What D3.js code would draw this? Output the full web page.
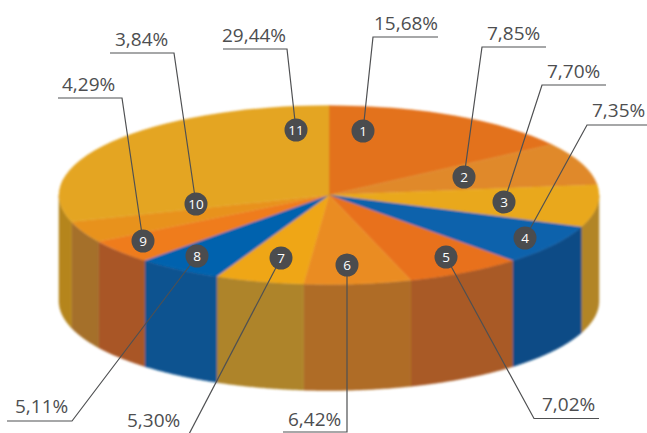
<!DOCTYPE html>
<html>
<head>
<meta charset="utf-8">
<script src="https://cdn.jsdelivr.net/npm/d3@7"></script>
<style>
html,body{margin:0;padding:0;background:#fff;}
svg{display:block;}
</style>
</head>
<body>
<svg id="chart" width="647" height="433"></svg>
<script>
const sliceIds = [1,2,3,4,5,6,7,8,9,10,11];
const shares = [15.68,7.85,7.70,7.35,7.02,6.42,5.30,5.11,4.29,3.84,29.44];
const shareLabels = ["15,68%","7,85%","7,70%","7,35%","7,02%","6,42%","5,30%","5,11%","4,29%","3,84%","29,44%"];
const topColors = ["#E3721F","#E0892A","#E9A81A","#0862AC","#E8711F","#EA8C22","#EFA616","#0562AE","#EF7B1F","#E8921F","#E4A523"];
const sideColors = ["#A9642A","#A9742A","#B28528","#0E4C86","#A95A26","#AF6C26","#AE8429","#0E5290","#A95628","#A5702A","#B5851F"];

// Annotation layout: marker centre, elbow, end of shelf, label start, baseline
const markerX = [363,464,504,525,446,347,281,197,143,196,296];
const markerY = [131,177,202,238,257,265,258,256,241,204,130];
const elbowX  = [373,482,542,587,534,347,188,72,122,174,287];
const elbowY  = [37,47,85,125,418.5,432,436,421,98,53,49];
const shelfX  = [438,546,606,647,599,283,188,7,58,110,223];
const labelX  = [374,487,547,592,542,288,127,15,62,115,222];
const labelY  = [30,40,78,117,411,426,427,413,91,46,42];

const cx = 329, cy = 195, rx = 270, ry = 89.5, depth = 106;

const svg = d3.select("#chart");
// perspective of the drawing: the front seams sit slightly clockwise of true angle
const warp = a => a - 0.032 * Math.sin(a / 2);
const pie = d3.pie().sort(null).value(d => d)(shares)
  .map(s => ({...s, startAngle: warp(s.startAngle), endAngle: warp(s.endAngle)}));

const defs = svg.append("defs");
defs.append("filter").attr("id","soft").attr("x","-5%").attr("y","-5%").attr("width","110%").attr("height","110%")
  .append("feGaussianBlur").attr("stdDeviation",0.9);

const pieG = svg.append("g").attr("filter","url(#soft)");

// side wall (only the front half of the cylinder shows)
const px = a => cx + rx * Math.sin(a);
const py = a => cy - ry * Math.cos(a);
const line = d3.line().x(d => d[0]).y(d => d[1]);
const lo = Math.PI / 2, hi = Math.PI * 1.5;
pie.forEach((s, i) => {
  const a0 = Math.max(s.startAngle, lo), a1 = Math.min(s.endAngle, hi);
  if (a1 <= a0) return;
  const angles = d3.range(0, 41).map(k => a0 + (a1 - a0) * k / 40);
  const upper = angles.map(a => [px(a), py(a)]);
  const lower = angles.slice().reverse().map(a => [px(a), py(a) + depth]);
  pieG.append("path")
    .attr("d", line(upper.concat(lower)) + "Z")
    .attr("fill", sideColors[i])
    .attr("stroke", sideColors[i]).attr("stroke-width", 0.5);
});

// top face
const arc = d3.arc().innerRadius(0).outerRadius(rx);
pieG.append("g")
  .attr("transform", `translate(${cx},${cy}) scale(1,${ry / rx})`)
  .selectAll("path").data(pie).join("path")
  .attr("d", arc)
  .attr("fill", (d, i) => topColors[i])
  .attr("stroke", (d, i) => topColors[i]).attr("stroke-width", 0.5);

// leader lines
const leaderG = svg.append("g").attr("fill","none").attr("stroke","#4f5052").attr("stroke-width",1.2);
sliceIds.forEach((id, i) => {
  leaderG.append("path").attr("d", line([
    [markerX[i], markerY[i]], [elbowX[i], elbowY[i]], [shelfX[i], elbowY[i]]
  ]));
});

// markers
const markers = svg.append("g").selectAll("g").data(sliceIds).join("g")
  .attr("transform", (d, i) => `translate(${markerX[i]},${markerY[i]})`);
markers.append("circle").attr("r", 11.5).attr("fill", "#4b4c4e");
markers.append("text").text(d => d)
  .attr("text-anchor","middle").attr("y", 4.8)
  .attr("font-family","'Open Sans','Noto Sans',sans-serif")
  .attr("font-size", 13.5).attr("fill","#fff");

// share labels
svg.append("g").selectAll("text").data(shareLabels).join("text")
  .text(d => d)
  .attr("x", (d, i) => labelX[i]).attr("y", (d, i) => labelY[i])
  .attr("font-family","'Open Sans','Noto Sans',sans-serif")
  .attr("font-size", 19).attr("fill","#4d4e50");
</script>
</body>
</html>
